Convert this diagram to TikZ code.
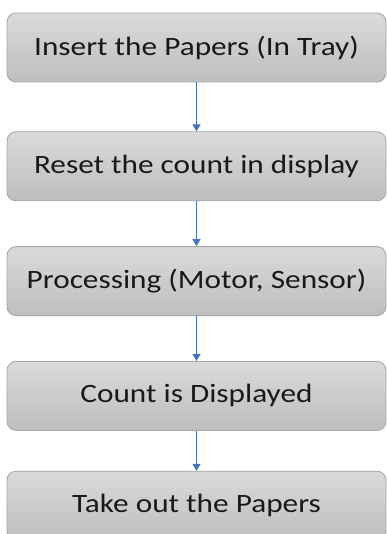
\documentclass[tikz,border=0pt]{standalone}
\usepackage{fontspec}
\setmainfont{Carlito}[FakeStretch=1.18]
\usepackage{tikz}
\usetikzlibrary{positioning, arrows.meta}
\definecolor{boxtop}{RGB}{218, 218, 218}
\definecolor{boxbottom}{RGB}{190, 190, 190}
\definecolor{boxline}{RGB}{165, 165, 165}
\definecolor{arrowblue}{RGB}{68, 114, 196}
\definecolor{textdark}{RGB}{25, 25, 25}
\tikzstyle{box} = [rectangle,rounded corners=9pt,draw=boxline,line width=.8pt,top color=boxtop,bottom color=boxbottom,minimum width=379pt,minimum height=69pt,text=textdark,font=\fontsize{26.5}{30}\selectfont]
\tikzstyle{flow} = [arrowblue,line width=1.2pt,-{Triangle[width=8pt,length=7pt]}]

\begin{document}
\begin{tikzpicture}
		\useasboundingbox (0pt,0pt) rectangle (386pt,-534pt);
		\node [box](insert) at (196.5pt,-47.5pt){Insert the Papers (In Tray)};
		\node [box,below=49pt of insert](reset){Reset the count in display};
		\node [box,below=45pt of reset](process){Processing (Motor, Sensor)};
		\node [box,below=45pt of process](count){Count is Displayed};
		\node [box,below=40pt of count](takeout){Take out the Papers};
		
		\draw[flow](insert)--(reset);
		\draw[flow](reset)--(process);
		\draw[flow](process)--(count);
		\draw[flow](count)--(takeout);
		\end{tikzpicture}
\end{document}
